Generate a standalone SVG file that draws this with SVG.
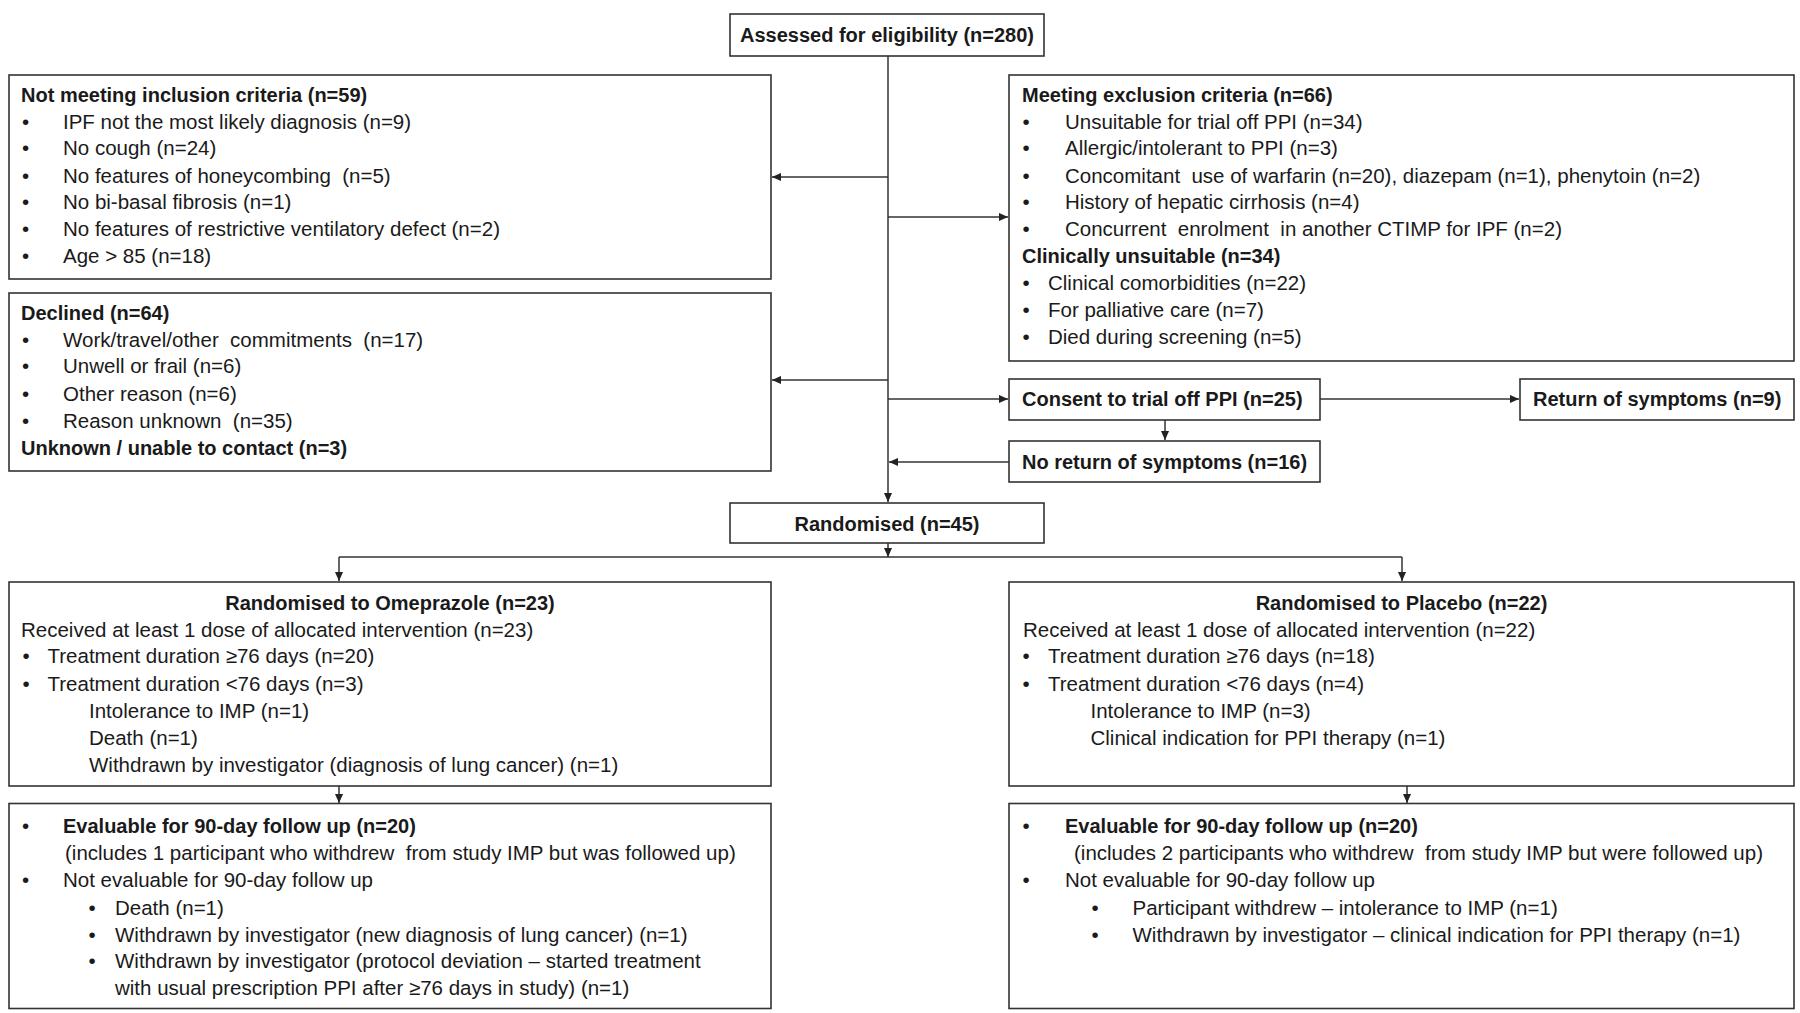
<svg xmlns="http://www.w3.org/2000/svg" width="1800" height="1013" viewBox="0 0 1800 1013">
<defs>
<style>
.box{fill:#fff;stroke:#333;stroke-width:1.6}
.t{font-family:"Liberation Sans",Arial,sans-serif;font-size:20.5px;fill:#1a1a1a}
.b{font-weight:bold;font-size:20px}
.c{text-anchor:middle}
.ln{stroke:#333;stroke-width:1.5;fill:none}
</style>
<marker id="ah" viewBox="0 0 10 10" refX="10" refY="5" markerWidth="9" markerHeight="9" markerUnits="userSpaceOnUse" orient="auto"><path d="M0,0.5 L10,5 L0,9.5 z" fill="#222"/></marker>
</defs>
<rect width="1800" height="1013" fill="#fff"/>

<g id="connectors">
<line class="ln" x1="888" y1="56" x2="888" y2="502" marker-end="url(#ah)"/>
<line class="ln" x1="888" y1="177" x2="772" y2="177" marker-end="url(#ah)"/>
<line class="ln" x1="888" y1="217" x2="1008" y2="217" marker-end="url(#ah)"/>
<line class="ln" x1="888" y1="380" x2="772" y2="380" marker-end="url(#ah)"/>
<line class="ln" x1="888" y1="399" x2="1008" y2="399" marker-end="url(#ah)"/>
<line class="ln" x1="1320" y1="399" x2="1519" y2="399" marker-end="url(#ah)"/>
<line class="ln" x1="1165" y1="420" x2="1165" y2="440" marker-end="url(#ah)"/>
<line class="ln" x1="1009" y1="462" x2="889" y2="462" marker-end="url(#ah)"/>
<line class="ln" x1="888" y1="543" x2="888" y2="557" marker-end="url(#ah)"/>
<line class="ln" x1="339" y1="557" x2="1402" y2="557"/>
<line class="ln" x1="339" y1="557" x2="339" y2="581" marker-end="url(#ah)"/>
<line class="ln" x1="1402" y1="557" x2="1402" y2="581" marker-end="url(#ah)"/>
<line class="ln" x1="339" y1="786" x2="339" y2="803" marker-end="url(#ah)"/>
<line class="ln" x1="1407" y1="786" x2="1407" y2="803" marker-end="url(#ah)"/>
</g>

<g id="assessed">
<rect class="box" x="730" y="14" width="314" height="42"/>
<text class="t b c" x="887" y="42">Assessed for eligibility (n=280)</text>
</g>

<g id="not-meeting">
<rect class="box" x="9" y="75" width="762" height="204"/>
<text class="t b" x="21" y="102">Not meeting inclusion criteria (n=59)</text>
<text class="t" x="22" y="128.5">•</text><text class="t" x="63" y="128.5">IPF not the most likely diagnosis (n=9)</text>
<text class="t" x="22" y="155">•</text><text class="t" x="63" y="155">No cough (n=24)</text>
<text class="t" x="22" y="182.5">•</text><text class="t" x="63" y="182.5" xml:space="preserve">No features of honeycombing  (n=5)</text>
<text class="t" x="22" y="209">•</text><text class="t" x="63" y="209">No bi-basal fibrosis (n=1)</text>
<text class="t" x="22" y="236">•</text><text class="t" x="63" y="236">No features of restrictive ventilatory defect (n=2)</text>
<text class="t" x="22" y="263">•</text><text class="t" x="63" y="263">Age &gt; 85 (n=18)</text>
</g>

<g id="exclusion">
<rect class="box" x="1009" y="75" width="785" height="286"/>
<text class="t b" x="1022" y="102">Meeting exclusion criteria (n=66)</text>
<text class="t" x="1022.5" y="128.5">•</text><text class="t" x="1065" y="128.5">Unsuitable for trial off PPI (n=34)</text>
<text class="t" x="1022.5" y="155">•</text><text class="t" x="1065" y="155">Allergic/intolerant to PPI (n=3)</text>
<text class="t" x="1022.5" y="182.5">•</text><text class="t" x="1065" y="182.5" xml:space="preserve">Concomitant  use of warfarin (n=20), diazepam (n=1), phenytoin (n=2)</text>
<text class="t" x="1022.5" y="209">•</text><text class="t" x="1065" y="209">History of hepatic cirrhosis (n=4)</text>
<text class="t" x="1022.5" y="236">•</text><text class="t" x="1065" y="236" xml:space="preserve">Concurrent  enrolment  in another CTIMP for IPF (n=2)</text>
<text class="t b" x="1022" y="263">Clinically unsuitable (n=34)</text>
<text class="t" x="1022.5" y="290">•</text><text class="t" x="1048" y="290">Clinical comorbidities (n=22)</text>
<text class="t" x="1022.5" y="317">•</text><text class="t" x="1048" y="317">For palliative care (n=7)</text>
<text class="t" x="1022.5" y="344">•</text><text class="t" x="1048" y="344">Died during screening (n=5)</text>
</g>

<g id="declined">
<rect class="box" x="9" y="293" width="762" height="178"/>
<text class="t b" x="21" y="320">Declined (n=64)</text>
<text class="t" x="22" y="346.5">•</text><text class="t" x="63" y="346.5" xml:space="preserve">Work/travel/other  commitments  (n=17)</text>
<text class="t" x="22" y="373">•</text><text class="t" x="63" y="373">Unwell or frail (n=6)</text>
<text class="t" x="22" y="400.5">•</text><text class="t" x="63" y="400.5">Other reason (n=6)</text>
<text class="t" x="22" y="428">•</text><text class="t" x="63" y="428" xml:space="preserve">Reason unknown  (n=35)</text>
<text class="t b" x="21" y="455">Unknown / unable to contact (n=3)</text>
</g>

<g id="consent">
<rect class="box" x="1009" y="379" width="311" height="41"/>
<text class="t b" x="1022" y="406">Consent to trial off PPI (n=25)</text>
</g>

<g id="return">
<rect class="box" x="1520" y="379" width="274" height="41"/>
<text class="t b" x="1533" y="406">Return of symptoms (n=9)</text>
</g>

<g id="no-return">
<rect class="box" x="1009" y="441" width="311" height="41"/>
<text class="t b" x="1022" y="469">No return of symptoms (n=16)</text>
</g>

<g id="randomised">
<rect class="box" x="730" y="503" width="314" height="40"/>
<text class="t b c" x="887" y="531">Randomised (n=45)</text>
</g>

<g id="omeprazole">
<rect class="box" x="9" y="582" width="762" height="204"/>
<text class="t b c" x="390" y="610">Randomised to Omeprazole (n=23)</text>
<text class="t" x="21" y="636.5">Received at least 1 dose of allocated intervention (n=23)</text>
<text class="t" x="22.5" y="663">•</text><text class="t" x="47.5" y="663">Treatment duration ≥76 days (n=20)</text>
<text class="t" x="22.5" y="690.5">•</text><text class="t" x="47.5" y="690.5">Treatment duration &lt;76 days (n=3)</text>
<text class="t" x="89" y="718">Intolerance to IMP (n=1)</text>
<text class="t" x="89" y="745">Death (n=1)</text>
<text class="t" x="89" y="771.5">Withdrawn by investigator (diagnosis of lung cancer) (n=1)</text>
</g>

<g id="placebo">
<rect class="box" x="1009" y="582" width="785" height="204"/>
<text class="t b c" x="1401.5" y="610">Randomised to Placebo (n=22)</text>
<text class="t" x="1023" y="636.5">Received at least 1 dose of allocated intervention (n=22)</text>
<text class="t" x="1022.5" y="663">•</text><text class="t" x="1048" y="663">Treatment duration ≥76 days (n=18)</text>
<text class="t" x="1022.5" y="690.5">•</text><text class="t" x="1048" y="690.5">Treatment duration &lt;76 days (n=4)</text>
<text class="t" x="1090.5" y="718">Intolerance to IMP (n=3)</text>
<text class="t" x="1090.5" y="745">Clinical indication for PPI therapy (n=1)</text>
</g>

<g id="followup-omeprazole">
<rect class="box" x="9" y="803.5" width="762" height="205"/>
<text class="t" x="22" y="832.5">•</text><text class="t b" x="63" y="832.5">Evaluable for 90-day follow up (n=20)</text>
<text class="t" x="65" y="860" xml:space="preserve">(includes 1 participant who withdrew  from study IMP but was followed up)</text>
<text class="t" x="22" y="886.5">•</text><text class="t" x="63" y="886.5">Not evaluable for 90-day follow up</text>
<text class="t" x="88.5" y="915">•</text><text class="t" x="115" y="915">Death (n=1)</text>
<text class="t" x="88.5" y="941.5">•</text><text class="t" x="115" y="941.5">Withdrawn by investigator (new diagnosis of lung cancer) (n=1)</text>
<text class="t" x="88.5" y="968">•</text><text class="t" x="115" y="968">Withdrawn by investigator (protocol deviation – started treatment</text>
<text class="t" x="115" y="995">with usual prescription PPI after ≥76 days in study) (n=1)</text>
</g>

<g id="followup-placebo">
<rect class="box" x="1009" y="803.5" width="785" height="205"/>
<text class="t" x="1022.5" y="832.5">•</text><text class="t b" x="1065" y="832.5">Evaluable for 90-day follow up (n=20)</text>
<text class="t" x="1074" y="860" xml:space="preserve">(includes 2 participants who withdrew  from study IMP but were followed up)</text>
<text class="t" x="1022.5" y="886.5">•</text><text class="t" x="1065" y="886.5">Not evaluable for 90-day follow up</text>
<text class="t" x="1091.5" y="915">•</text><text class="t" x="1132.5" y="915">Participant withdrew – intolerance to IMP (n=1)</text>
<text class="t" x="1091.5" y="941.5">•</text><text class="t" x="1132.5" y="941.5">Withdrawn by investigator – clinical indication for PPI therapy (n=1)</text>
</g>
</svg>
